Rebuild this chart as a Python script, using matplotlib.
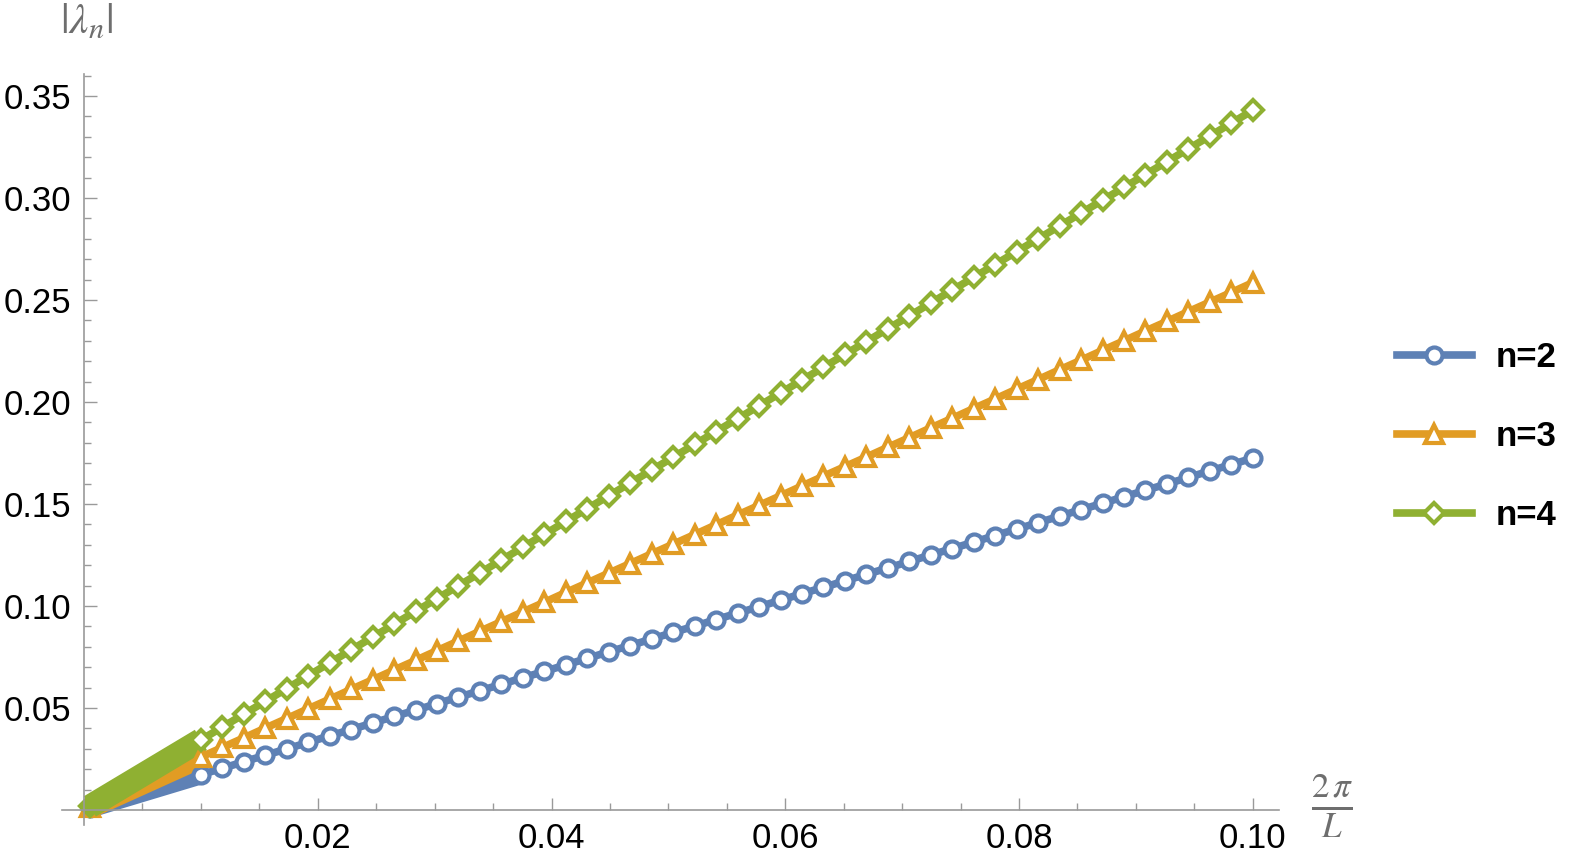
import numpy as np
import matplotlib
matplotlib.use('Agg')
import matplotlib.pyplot as plt
from matplotlib.ticker import MultipleLocator

plt.rcParams['font.family'] = ['Liberation Sans', 'DejaVu Sans']
plt.rcParams['mathtext.fontset'] = 'stix'

# sample grid 2*pi/L (open markers)
x = np.linspace(0.01, 0.10, 50)

lam2 = [0.0173, 0.0204, 0.0236, 0.0268, 0.0299, 0.0331, 0.0363, 0.0394, 0.0426, 0.0458,
        0.0489, 0.0521, 0.0553, 0.0584, 0.0616, 0.0648, 0.0679, 0.0711, 0.0743, 0.0775,
        0.0806, 0.0838, 0.0870, 0.0901, 0.0933, 0.0965, 0.0996, 0.1028, 0.1060, 0.1091,
        0.1123, 0.1155, 0.1186, 0.1218, 0.1250, 0.1281, 0.1313, 0.1345, 0.1377, 0.1408,
        0.1440, 0.1472, 0.1503, 0.1535, 0.1567, 0.1598, 0.1630, 0.1662, 0.1693, 0.1725]
lam3 = [0.0259, 0.0306, 0.0353, 0.0401, 0.0448, 0.0496, 0.0543, 0.0591, 0.0638, 0.0686,
        0.0733, 0.0781, 0.0828, 0.0876, 0.0923, 0.0971, 0.1018, 0.1066, 0.1113, 0.1161,
        0.1208, 0.1256, 0.1303, 0.1350, 0.1398, 0.1446, 0.1493, 0.1540, 0.1588, 0.1636,
        0.1683, 0.1730, 0.1778, 0.1825, 0.1873, 0.1920, 0.1968, 0.2015, 0.2063, 0.2110,
        0.2158, 0.2205, 0.2253, 0.2300, 0.2348, 0.2395, 0.2443, 0.2490, 0.2537, 0.2585]
lam4 = [0.0343, 0.0406, 0.0469, 0.0532, 0.0595, 0.0658, 0.0721, 0.0784, 0.0847, 0.0910,
        0.0973, 0.1036, 0.1099, 0.1162, 0.1225, 0.1288, 0.1351, 0.1414, 0.1477, 0.1540,
        0.1603, 0.1666, 0.1729, 0.1792, 0.1855, 0.1918, 0.1981, 0.2044, 0.2107, 0.2170,
        0.2233, 0.2296, 0.2359, 0.2422, 0.2485, 0.2548, 0.2611, 0.2674, 0.2737, 0.2800,
        0.2863, 0.2926, 0.2989, 0.3052, 0.3115, 0.3178, 0.3241, 0.3304, 0.3367, 0.3430]

# dense region near the origin (markers merge into a solid band)
x_band = [0.0005, 0.01]
band2 = [0.0009, 0.0173]
band3 = [0.0013, 0.0259]
band4 = [0.0017, 0.0343]

labels = ['n=2', 'n=3', 'n=4']
colors = ['#5E81B5', '#E19C24', '#8FB032']
markers = ['o', '^', 'D']
msizes = [11.5, 13.5, 10.5]
bandw = [14, 16, 17]

fig = plt.figure(figsize=(15.78, 8.68), dpi=100)
ax = fig.add_axes([61.8 / 1578, 43 / 868, 1216.7 / 1578, 751 / 868])

handles = []
for ys, yb, c, m, ms, bw, lab in zip([lam2, lam3, lam4], [band2, band3, band4],
                                      colors, markers, msizes, bandw, labels):
    ax.plot(x_band, yb, color=c, lw=bw, solid_capstyle='butt', zorder=2)
    ax.plot(x_band[:1], yb[:1], ls='none', marker=m, ms=ms, mfc=c, mec=c,
            mew=3.0, zorder=2)
    h, = ax.plot(x, ys, color=c, lw=5.5, marker=m, ms=ms, mfc='white', mec=c,
                 mew=3.0, zorder=3, label=lab)
    handles.append(h)

ax.set_xlim(-0.0019, 0.1022)
ax.set_ylim(-0.0074, 0.3608)

for s in ['top', 'right']:
    ax.spines[s].set_visible(False)
ax.spines['left'].set_position(('data', 0))
ax.spines['bottom'].set_position(('data', 0))
for s in ['left', 'bottom']:
    ax.spines[s].set_color('#9a9a9a')
    ax.spines[s].set_linewidth(1.2)

ax.xaxis.set_minor_locator(MultipleLocator(0.005))
ax.yaxis.set_minor_locator(MultipleLocator(0.01))
ax.set_xticks([0.02, 0.04, 0.06, 0.08, 0.10])
ax.set_xticklabels(['0.02', '0.04', '0.06', '0.08', '0.10'])
ax.set_yticks([0.05, 0.10, 0.15, 0.20, 0.25, 0.30, 0.35])
ax.set_yticklabels(['0.05', '0.10', '0.15', '0.20', '0.25', '0.30', '0.35'])
ax.tick_params(which='both', direction='in', color='#9a9a9a', width=1.0,
               labelsize=25, pad=9)
ax.tick_params(which='major', length=9)
ax.tick_params(which='minor', length=5)

fig.text(86 / 1578, 1 - 22 / 868, r'$|\lambda_n|$', fontsize=31, color='#6e6e6e',
         ha='center', va='center')
fig.text(1332 / 1578, 1 - 806 / 868, r'$\frac{2\,\pi}{L}$', fontsize=36,
         color='#6e6e6e', ha='center', va='center')

leg = fig.legend(handles=handles, loc='upper left',
                 bbox_to_anchor=(1397 / 1578, 1 - 341 / 868),
                 frameon=False, handlelength=2.15,
                 handletextpad=0.7, labelspacing=1.32, borderpad=0,
                 borderaxespad=0, prop={'weight': 'bold', 'size': 25})

fig.savefig('out.png', dpi=100)
